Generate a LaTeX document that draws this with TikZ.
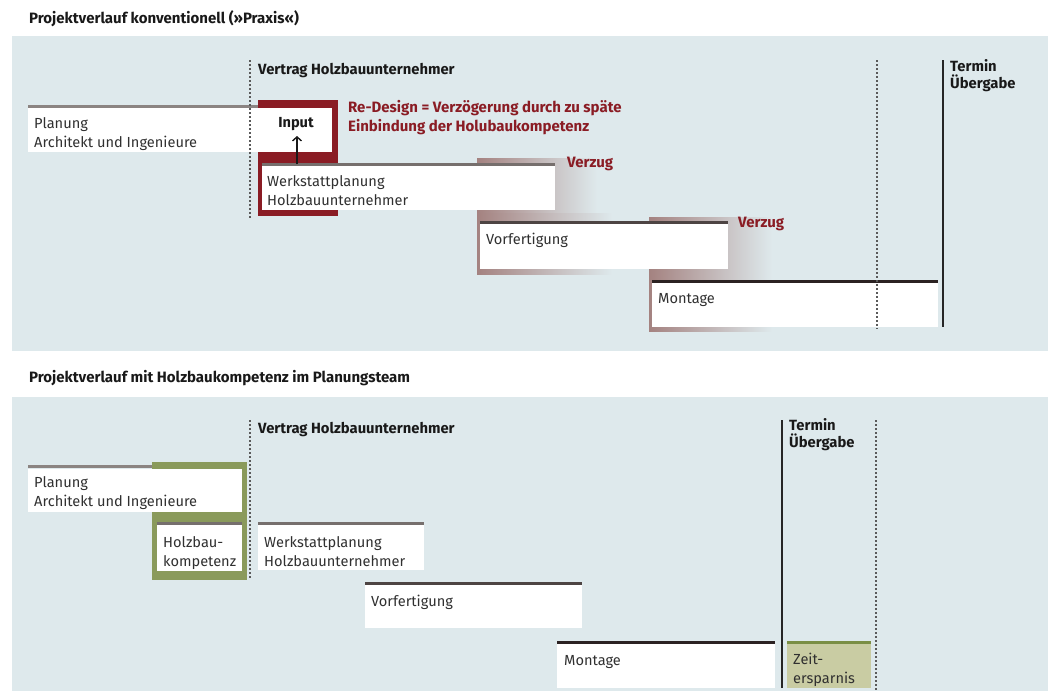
\documentclass[tikz,border=0pt]{standalone}
\usepackage{fontspec}
\setmainfont{Fira Sans}
\usetikzlibrary{arrows.meta}
\definecolor{bg}{HTML}{DEE9EC}
\definecolor{txtc}{HTML}{303030}
\definecolor{redc}{HTML}{8A1C24}
\definecolor{greenc}{HTML}{8A9A5B}
\definecolor{zeitc}{HTML}{C9CCA3}
\definecolor{zeitl}{HTML}{7A8E45}
\definecolor{lineA}{HTML}{8B8482}
\definecolor{lineB}{HTML}{766F6D}
\definecolor{lineC}{HTML}{4D4443}
\definecolor{lineD}{HTML}{2B2222}
\definecolor{shadowc}{HTML}{A48280}
\definecolor{shadowm}{HTML}{CCC7C5}
\definecolor{dotc}{HTML}{5A5A5A}
\tikzset{
  boxw/.style={fill=white, draw=none, inner sep=0, anchor=north west},
  topline/.style={line width=3pt},
  txt/.style={inner sep=0, anchor=base west, align=left, text=txtc,
    font=\fontsize{14.6}{19}\selectfont},
  head/.style={inner sep=0, anchor=base west, text=black!90,
    font=\fontsize{14.8}{17}\selectfont\bfseries},
  titletxt/.style={inner sep=0, anchor=base west, text=black!90,
    font=\fontsize{15}{17}\selectfont\bfseries},
  headml/.style={inner sep=0, anchor=base west, align=left, text=black!90,
    font=\fontsize{14.8}{17}\selectfont\bfseries},
  redtxt/.style={inner sep=0, anchor=base west, align=left, text=redc,
    font=\fontsize{15}{19}\selectfont\bfseries},
  dotline/.style={dotc, line width=1.6pt, dash pattern=on 1.5pt off 2.5pt},
  solidline/.style={black!85, line width=2.2pt},
  panel/.style={fill=bg, draw=none},
  delay/.style={left color=shadowc, middle color=shadowm, right color=bg}
}
\begin{document}
\begin{tikzpicture}[x=1pt,y=-1pt]
\useasboundingbox (0,0) rectangle (1053,691);
\fill[white] (0,0) rectangle (1053,691);
% panels
\fill[panel] (12,36) rectangle (1048,351);
\fill[panel] (12,397) rectangle (1048,691);
% titles
\node[titletxt] (title1) at (29,23) {Projektverlauf konventionell (»Praxis«)};
\node[titletxt] (title2) at (29,382) {Projektverlauf mit Holzbaukompetenz im Planungsteam};

% ================= TOP PANEL =================
% delay shadows
\shade[delay] (477,158) rectangle (597,213);
\shade[delay] (477,213) rectangle (612,274);
\shade[delay] (649,217) rectangle (772,331);
% red frame
\fill[redc] (258,100) rectangle (338,216);
% Planung
\draw[topline, lineA] (28,106.5) -- (258,106.5);
\node[boxw, minimum width=230pt, minimum height=44pt] (plan1) at (28,108) {};
\node[boxw, minimum width=74pt, minimum height=44pt] (input) at (258,108) {};
\node[txt] (plan1t) at (34,147) {Planung\\Architekt und Ingenieure};
\node[inner sep=0, anchor=base, text=black!90, font=\fontsize{14.6}{17}\selectfont\bfseries] (inputt) at (296,127) {Input};
% Werkstattplanung
\node[boxw, minimum width=293pt, minimum height=44pt] (werk1) at (262,166) {};
\draw[topline, lineB] ([yshift=1.5pt]werk1.north west) -- ([yshift=1.5pt]werk1.north east);
\node[txt] (werk1t) at (267,205) {Werkstattplanung\\Holzbauunternehmer};
% arrow
\coordinate (arrtip) at (297,136);
\draw[line width=1.4pt, black!90, -{Straight Barb[length=4pt,width=9pt,line width=1.4pt]}] (297,164) -- (arrtip);
% Vorfertigung
\node[boxw, minimum width=248pt, minimum height=45pt] (vor1) at (480,224) {};
\draw[topline, lineC] ([yshift=1.5pt]vor1.north west) -- ([yshift=1.5pt]vor1.north east);
\node[txt] (vor1t) at (486,244) {Vorfertigung};
% Montage
\node[boxw, minimum width=286pt, minimum height=44pt] (mon1) at (652,283) {};
\draw[topline, lineD] ([yshift=1.5pt]mon1.north west) -- ([yshift=1.5pt]mon1.north east);
\node[txt] (mon1t) at (658,303) {Montage};
% red labels
\node[redtxt] (redesign) at (348,131) {Re-Design = Verzögerung durch zu späte\\Einbindung der Holubaukompetenz};
\node[redtxt] (verzug1) at (567,167) {Verzug};
\node[redtxt] (verzug2) at (738,227) {Verzug};
% vertical lines
\coordinate (d1a) at (250,60); \coordinate (d1b) at (250,218);
\draw[dotline] (d1a) -- (d1b);
\coordinate (d2a) at (877,60); \coordinate (d2b) at (877,329);
\draw[dotline] (d2a) -- (d2b);
\coordinate (s1a) at (943,60); \coordinate (s1b) at (943,327);
\draw[solidline] (s1a) -- (s1b);
\node[head] (vertrag1) at (258,74) {Vertrag Holzbauunternehmer};
\node[headml] (termin1) at (950,88) {Termin\\Übergabe};

% ================= BOTTOM PANEL =================
\draw[topline, lineA] (28,466.5) -- (152,466.5);
\fill[greenc] (152,462) rectangle (247,580);
\node[boxw, minimum width=214pt, minimum height=43pt] (plan2) at (28,469) {};
\node[txt] (plan2t) at (34,506) {Planung\\Architekt und Ingenieure};
% Holzbaukompetenz
\node[boxw, minimum width=85pt, minimum height=46pt] (holz) at (157,525) {};
\draw[topline, lineB] ([yshift=1.5pt]holz.north west) -- ([yshift=1.5pt]holz.north east);
\node[txt] (holzt) at (163,566) {Holzbau-\\kompetenz};
% Werkstattplanung
\node[boxw, minimum width=166pt, minimum height=45pt] (werk2) at (258,525) {};
\draw[topline, lineB] ([yshift=1.5pt]werk2.north west) -- ([yshift=1.5pt]werk2.north east);
\node[txt] (werk2t) at (264,566) {Werkstattplanung\\Holzbauunternehmer};
% Vorfertigung
\node[boxw, minimum width=217pt, minimum height=43pt] (vor2) at (365,585) {};
\draw[topline, lineC] ([yshift=1.5pt]vor2.north west) -- ([yshift=1.5pt]vor2.north east);
\node[txt] (vor2t) at (371,606) {Vorfertigung};
% Montage
\node[boxw, minimum width=218pt, minimum height=44pt] (mon2) at (557,644) {};
\draw[topline, lineD] ([yshift=1.5pt]mon2.north west) -- ([yshift=1.5pt]mon2.north east);
\node[txt] (mon2t) at (564,665) {Montage};
% Zeitersparnis
\node[boxw, fill=zeitc, minimum width=84pt, minimum height=44pt] (zeit) at (787,644) {};
\draw[topline, zeitl] ([yshift=1.5pt]zeit.north west) -- ([yshift=1.5pt]zeit.north east);
\node[txt] (zeitt) at (793,683) {Zeit-\\ersparnis};
% vertical lines
\coordinate (d3a) at (250,420); \coordinate (d3b) at (250,580);
\draw[dotline] (d3a) -- (d3b);
\coordinate (d4a) at (876,420); \coordinate (d4b) at (876,690);
\draw[dotline] (d4a) -- (d4b);
\coordinate (s2a) at (782,420); \coordinate (s2b) at (782,688);
\draw[solidline] (s2a) -- (s2b);
\node[head] (vertrag2) at (258,433) {Vertrag Holzbauunternehmer};
\node[headml] (termin2) at (789,447) {Termin\\Übergabe};
\end{tikzpicture}
\end{document}
